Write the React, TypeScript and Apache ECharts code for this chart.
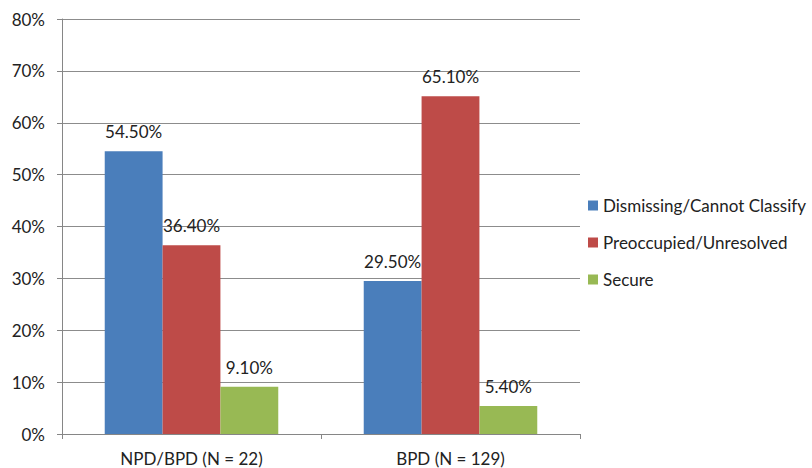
import React, { useEffect, useRef } from "react";
import * as echarts from "echarts";

const categories = ["NPD/BPD (N = 22)", "BPD (N = 129)"];
const seriesNames = ["Dismissing/Cannot Classify", "Preoccupied/Unresolved", "Secure"];
const dismissing = [54.5, 29.5];
const preoccupied = [36.4, 65.1];
const secure = [9.1, 5.4];
const colors = ["#4a7ebb", "#be4b48", "#98b954"];
const yTicks = { min: 0, max: 80, interval: 10 };

export default function App() {
  const ref = useRef<HTMLDivElement>(null);
  useEffect(() => {
    if (!ref.current) return;
    const chart = echarts.init(ref.current, null, { renderer: "svg" });
    const font = "Lato, 'Liberation Sans', sans-serif";
    const values = [dismissing, preoccupied, secure];
    chart.setOption({
      animation: false,
      textStyle: { fontFamily: font },
      grid: { left: 62, right: 232, top: 19, bottom: 34, containLabel: false },
      legend: {
        orient: "vertical",
        left: 583,
        top: 192,
        itemWidth: 10,
        itemHeight: 10,
        itemGap: 20,
        icon: "rect",
        textStyle: { fontSize: 17, lineHeight: 15, color: "#222", fontFamily: font },
        data: seriesNames,
      },
      xAxis: {
        type: "category",
        data: categories,
        axisLine: { lineStyle: { color: "#868686", width: 1 } },
        axisTick: { show: true, length: 5, lineStyle: { color: "#868686" } },
        axisLabel: { fontSize: 17, color: "#222", margin: 16, fontFamily: font },
      },
      yAxis: {
        type: "value",
        min: yTicks.min,
        max: yTicks.max,
        interval: yTicks.interval,
        axisLine: { show: true, lineStyle: { color: "#868686", width: 1 } },
        axisTick: { show: true, length: 5, lineStyle: { color: "#868686" } },
        splitLine: { show: true, lineStyle: { color: "#8c8c8c", width: 1 } },
        axisLabel: { fontSize: 17, color: "#222", margin: 17, formatter: "{value}%", fontFamily: font },
      },
      series: seriesNames.map((name, i) => ({
        name,
        type: "bar",
        data: values[i],
        barGap: "0%",
        barCategoryGap: "33%",
        itemStyle: { color: colors[i] },
        label: {
          show: true,
          position: "top",
          distance: 11,
          fontSize: 17,
          color: "#222",
          fontFamily: font,
          formatter: (p: any) => p.value.toFixed(2) + "%",
        },
      })),
    });
    return () => chart.dispose();
  }, []);
  return <div ref={ref} style={{ width: 812, height: 468, position: "absolute", left: 0, top: 0, background: "#fff" }} />;
}
